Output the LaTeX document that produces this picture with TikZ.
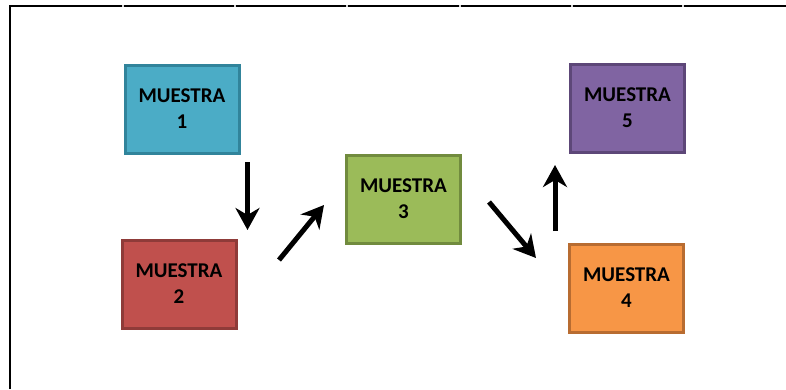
\documentclass[tikz,border=0pt]{standalone}
\usepackage{fontspec}
\setmainfont{Carlito}
\usetikzlibrary{arrows.meta}
\definecolor{c1fill}{HTML}{4BACC6}\definecolor{c1line}{HTML}{31849B}
\definecolor{c2fill}{HTML}{C0504D}\definecolor{c2line}{HTML}{8F3B39}
\definecolor{c3fill}{HTML}{9BBB59}\definecolor{c3line}{HTML}{718B3E}
\definecolor{c4fill}{HTML}{F79646}\definecolor{c4line}{HTML}{B86C31}
\definecolor{c5fill}{HTML}{8064A2}\definecolor{c5line}{HTML}{5D4778}
\tikzset{
  sample/.style={draw=#1line, fill=#1fill, line width=3pt, rectangle,
    minimum width=114pt, minimum height=88pt, inner sep=0pt, align=center,
    font=\fontsize{21}{26}\selectfont\bfseries, text=black},
  flow/.style={line width=5pt, -{Stealth[length=22pt,width=24pt,inset=7pt]}},
  frame/.style={line width=1.1pt, black},
}
\begin{document}
\begin{tikzpicture}[x=1pt,y=-1pt]
\useasboundingbox (0,0) rectangle (786,389);
% frame
\draw[frame] (10,389) -- (10,6) -- (786,6);
\foreach \gx in {123,235,347,460,572,683}
  \fill[gray!30] (\gx-0.7,5.45) rectangle (\gx+0.7,6.55);
% boxes
\node[sample=c1] (m1) at (182,109) {MUESTRA\\1};
\node[sample=c2] (m2) at (179,284) {MUESTRA\\2};
\node[sample=c3] (m3) at (403.5,199) {MUESTRA\\3};
\node[sample=c4] (m4) at (626.5,288) {MUESTRA\\4};
\node[sample=c5] (m5) at (627.5,108) {MUESTRA\\5};
% arrow end points
\coordinate (a1s) at (247.5,162);
\coordinate (a1e) at (247.5,230);
\coordinate (a2s) at (279,260);
\coordinate (a2e) at (324,205);
\coordinate (a3s) at (489,202);
\coordinate (a3e) at (536,258);
\coordinate (a4s) at (555,231);
\coordinate (a4e) at (555,165);
\draw[flow] (a1s) -- (a1e);
\draw[flow] (a2s) -- (a2e);
\draw[flow] (a3s) -- (a3e);
\draw[flow] (a4s) -- (a4e);
\end{tikzpicture}
\end{document}
